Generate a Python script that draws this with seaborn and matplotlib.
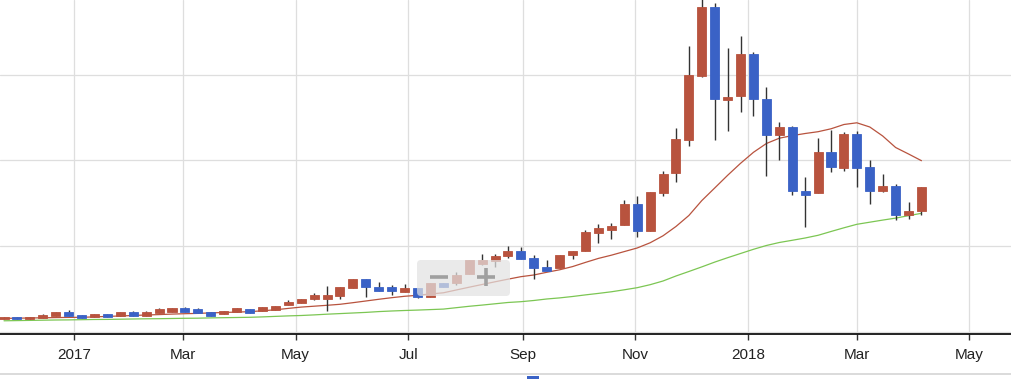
import matplotlib
matplotlib.use("Agg")
import numpy as np
import pandas as pd
import seaborn as sns
import matplotlib.pyplot as plt
import matplotlib.dates as mdates
from matplotlib.ticker import FuncFormatter
from matplotlib.patches import Rectangle, FancyBboxPatch
from matplotlib.lines import Line2D

##########
# Data (weekly candles) #
##########

week_start = "2016-11-24"

opens = [725, 875, 730, 785, 935, 1135, 975, 860, 1050, 935,
         1135, 935, 1090, 1170, 1365, 1310, 1135, 1015, 1135, 1310,
         1190, 1285, 1540, 1695, 1930, 1930, 2085, 2570, 3060, 2610,
         2610, 2320, 2535, 2010, 2825, 2860, 3355, 3955, 4130, 4420,
         4730, 4285, 3760, 3720, 4500, 4715, 5750, 5960, 6215, 7460,
         5900, 8085, 9250, 11200, 14935, 18950, 13535, 13765, 16220, 13575,
         11505, 11975, 8200, 8085, 10480, 9560, 11550, 9600, 8235, 8510,
         6835, 7050]

highs = [880, 880, 880, 1035, 1135, 1265, 980, 1055, 1055, 1135,
         1210, 1210, 1365, 1370, 1425, 1365, 1140, 1210, 1370, 1315,
         1425, 1520, 1850, 1910, 2245, 2690, 2615, 3065, 3065, 2920,
         2730, 2785, 2540, 2830, 2830, 3505, 4190, 4540, 4540, 5005,
         4945, 4465, 4190, 4480, 4715, 5940, 6290, 6365, 7695, 7925,
         8145, 9405, 11880, 16705, 19700, 19180, 16555, 17270, 16355, 14275,
         12265, 12015, 9055, 11330, 11780, 11680, 11740, 10030, 9210, 8625,
         7595, 8435]

lows = [720, 740, 725, 780, 930, 930, 780, 855, 855, 930,
        930, 930, 1085, 1165, 1165, 1090, 930, 1010, 1130, 1105,
        1185, 1280, 1535, 1690, 1850, 1230, 1930, 2565, 2010, 2395,
        2145, 2315, 1950, 2005, 2625, 2730, 3350, 3895, 3760, 4285,
        4260, 3060, 3560, 3715, 4265, 4710, 5200, 5430, 6210, 5515,
        5895, 7925, 8760, 10865, 14900, 11200, 11740, 12850, 12600, 9110,
        10030, 7985, 6135, 8080, 9345, 9405, 8470, 7460, 8175, 6525,
        6600, 6815]

closes = [875, 745, 875, 975, 1135, 935, 785, 1050, 860, 1135,
          935, 1135, 1310, 1365, 1170, 1090, 935, 1210, 1365, 1110,
          1425, 1520, 1750, 1910, 2145, 2145, 2610, 3060, 2610, 2395,
          2395, 2535, 2045, 2825, 2630, 3310, 4190, 4190, 4420, 4715,
          4265, 3740, 3565, 4480, 4715, 5825, 6040, 6175, 7460, 5900,
          8140, 9230, 11255, 14995, 18950, 13575, 13725, 16220, 13575, 11505,
          11940, 8235, 8000, 10480, 9640, 11550, 9560, 8235, 8510, 6835,
          7050, 8435]

# moving averages as drawn on the chart
ma_short = [777, 789, 800, 812, 824, 835, 841, 864, 894, 917,
            946, 975, 999, 1028, 1051, 1069, 1098, 1122, 1145, 1168,
            1221, 1279, 1361, 1437, 1489, 1542, 1600, 1694, 1793, 1893,
            1986, 2068, 2126, 2202, 2272, 2436, 2599, 2757, 2915, 3067,
            3213, 3312, 3470, 3616, 3803, 4048, 4281, 4468, 4679, 4889,
            5193, 5602, 6145, 6787, 7658, 8394, 9135, 9836, 10479, 10993,
            11302, 11454, 11577, 11682, 11852, 12103, 12202, 11957, 11431, 10759,
            10380, 9988]

ma_long = [637, 648, 660, 672, 683, 689, 701, 713, 718, 730,
           742, 753, 759, 771, 783, 789, 806, 818, 829, 841,
           864, 894, 923, 946, 981, 1022, 1057, 1092, 1127, 1174,
           1209, 1238, 1262, 1291, 1320, 1402, 1484, 1554, 1630, 1706,
           1752, 1822, 1910, 1974, 2056, 2150, 2237, 2331, 2447, 2570,
           2745, 2961, 3253, 3516, 3785, 4065, 4322, 4568, 4813, 5035,
           5210, 5339, 5473, 5631, 5853, 6069, 6273, 6396, 6519, 6635,
           6776, 6916]

price_grid = [0, 5000, 10000, 15000]

df = pd.DataFrame({"open": opens, "high": highs, "low": lows, "close": closes,
                   "ma_short": ma_short, "ma_long": ma_long})
df["date"] = pd.date_range(week_start, periods=len(df), freq="7D")

RED = "#b8533e"
BLUE = "#3a62c6"
GREEN = "#7cc653"

##########
# Plot #
##########

sns.set_style("whitegrid")
plt.rcParams["font.family"] = ["Liberation Sans", "DejaVu Sans"]

fig = plt.figure(figsize=(10.11, 3.79), dpi=100)
ax = fig.add_axes([0, 45 / 379, 1, 334 / 379])

sns.lineplot(data=df, x="date", y="ma_short", color=RED, lw=0.9, ax=ax, zorder=2)
sns.lineplot(data=df, x="date", y="ma_long", color=GREEN, lw=0.9, ax=ax, zorder=2)

rising = df["close"] > df["open"]
colors = np.where(rising, RED, BLUE)
ax.vlines(df["date"], df["low"], df["high"], color="#333333", lw=1.0, zorder=3)
ax.bar(df["date"], (df["close"] - df["open"]).abs(),
       bottom=df[["open", "close"]].min(axis=1),
       width=4.9, color=colors, edgecolor=colors, lw=0.6, zorder=4)

ax.set_xlim(pd.Timestamp("2016-11-21 20:00"), pd.Timestamp("2018-05-23 12:00"))
ax.set_ylim(-135, 19375)
ax.set_yticks(price_grid)
ax.set_yticklabels([])
ax.tick_params(axis="y", length=0)

ax.xaxis.set_major_locator(mdates.MonthLocator(bymonth=[1, 3, 5, 7, 9, 11]))
ax.xaxis.set_major_formatter(FuncFormatter(
    lambda v, pos: mdates.num2date(v).strftime("%Y" if mdates.num2date(v).month == 1 else "%b")))
ax.tick_params(axis="x", direction="out", length=4.5, width=1.0, color="#333333",
               pad=5.5, labelsize=11, labelcolor="#222222", bottom=True)

ax.grid(True, color="#dedede", lw=0.9)
ax.set_xlabel("")
ax.set_ylabel("")
for side in ["top", "left", "right"]:
    ax.spines[side].set_visible(False)
ax.spines["bottom"].set_color("#111111")
ax.spines["bottom"].set_linewidth(1.3)

# zoom control overlay
fig.add_artist(FancyBboxPatch((417, 83), 93, 36, boxstyle="round,pad=0,rounding_size=4",
                              transform=None, fc="#e2e2e2", ec="none", alpha=0.72, zorder=10))
fig.add_artist(Line2D([430, 448], [101.7, 101.7], transform=None, color="#a0a0a0",
                      lw=2.6, solid_capstyle="butt", zorder=11))
fig.add_artist(Line2D([477, 495], [101.7, 101.7], transform=None, color="#a0a0a0",
                      lw=2.6, solid_capstyle="butt", zorder=11))
fig.add_artist(Line2D([486, 486], [93, 111], transform=None, color="#a0a0a0",
                      lw=2.6, solid_capstyle="butt", zorder=11))

# bottom strip
fig.add_artist(Line2D([0, 1011], [5, 5], transform=None, color="#d4d4d4", lw=1.2))
fig.add_artist(Rectangle((527, 0), 12, 3.5, transform=None, fc=BLUE, ec="none"))

fig.savefig("out.png", dpi=100)
